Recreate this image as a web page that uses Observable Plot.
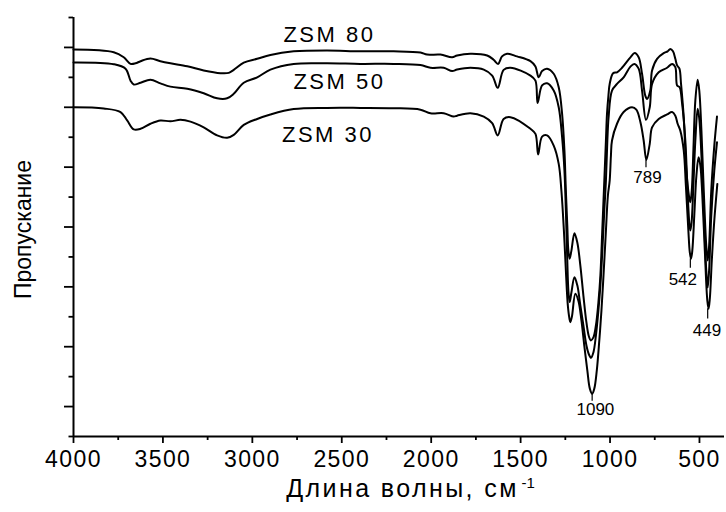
<!DOCTYPE html>
<html><head><meta charset="utf-8">
<script src="https://cdn.jsdelivr.net/npm/d3@7"></script>
<script src="https://cdn.jsdelivr.net/npm/@observablehq/plot@0.6"></script>
<style>
body{margin:0;background:#fff;}
#chart svg{display:block;}
</style></head><body><div id="chart"></div>
<script>
const series = ["ZSM 80", "ZSM 50", "ZSM 30"];

const wn80 = [4000,3775,3719,3681,3653,3625,3570,3514,3458,3364,3272,3178,3132,3104,3048,2973,2899,2769,2582,2396,2210,2060,2023,1948,1883,1855,1781,1687,1651,1626,1604,1576,1520,1445,1417,1399,1380,1352,1315,1287,1268,1255,1247,1239,1233,1226,1216,1199,1183,1166,1149,1132,1118,1107,1093,1079,1065,1054,1043,1032,1023,1017,1009,1002,983,961,933,886,862,840,821,803,793,775,765,737,700,678,663,648,635,625,612,603,588,573,559,551,543,534,523,510,501,489,476,462,454,446,434,417,402];
const t80 = [12.93,12.84,12.67,12.45,12.47,12.54,12.63,12.54,12.47,12.37,12.23,12.14,12.15,12.25,12.49,12.62,12.75,12.87,12.90,12.87,12.87,12.83,12.76,12.76,12.67,12.73,12.79,12.73,12.59,12.45,12.70,12.79,12.70,12.54,12.36,12.00,12.21,12.29,12.12,11.67,10.78,9.56,8.22,7.05,6.21,5.94,6.21,6.79,6.48,5.71,4.71,3.81,3.34,3.21,3.31,3.71,4.48,5.38,6.95,8.55,9.89,10.78,11.39,11.78,12.14,12.17,12.32,12.67,12.81,12.67,12.12,11.39,11.28,11.56,12.23,12.62,12.81,12.87,12.95,12.87,12.62,12.40,12.29,11.78,10.67,8.89,8.05,7.83,8.22,9.56,11.23,11.92,11.56,10.22,8.22,6.38,5.88,6.38,8.22,9.72,10.69];

const wn50 = [4000,3775,3709,3681,3663,3625,3570,3514,3458,3364,3272,3197,3141,3104,3048,2973,2899,2769,2582,2396,2210,2060,2004,1930,1883,1855,1781,1706,1659,1628,1595,1557,1445,1417,1405,1380,1352,1315,1287,1268,1255,1247,1239,1233,1226,1216,1199,1183,1166,1149,1132,1118,1106,1093,1079,1065,1054,1043,1032,1023,1015,1008,989,961,924,886,864,840,821,799,778,765,728,681,653,635,625,611,597,579,568,557,551,544,534,523,510,501,489,476,462,454,446,434,417,402];
const t50 = [12.50,12.44,12.29,11.89,11.76,11.82,11.92,11.80,11.69,11.62,11.47,11.30,11.30,11.45,11.82,12.00,12.26,12.45,12.47,12.45,12.45,12.41,12.32,12.32,12.21,12.26,12.32,12.26,12.06,11.65,12.25,12.32,12.06,11.89,11.14,11.73,11.80,11.56,11.00,10.00,8.89,7.55,5.88,4.88,4.49,4.81,5.32,5.05,4.38,3.71,3.04,2.74,2.63,2.81,3.37,4.21,5.05,6.21,7.55,8.55,9.89,10.67,11.56,11.78,12.00,12.36,12.45,12.29,11.56,10.58,11.00,11.78,12.17,12.32,12.45,12.34,11.73,11.67,11.12,9.89,8.39,7.15,6.88,7.15,8.39,9.89,10.95,10.62,9.39,7.55,5.55,4.98,5.55,7.38,8.89,9.83];

const wn30 = [4000,3831,3737,3700,3663,3625,3570,3514,3458,3402,3346,3272,3197,3141,3104,3048,2973,2899,2769,2582,2396,2210,2060,2004,1930,1874,1855,1781,1706,1659,1628,1595,1557,1445,1417,1402,1380,1352,1315,1287,1272,1258,1247,1236,1227,1222,1213,1194,1177,1160,1144,1127,1113,1100,1088,1074,1060,1048,1035,1023,1012,1002,995,989,961,924,877,853,830,812,797,778,765,728,681,653,635,622,607,588,576,562,554,547,540,529,517,505,495,484,470,456,449,442,431,417,400];
const t30 = [11.00,10.96,10.84,10.56,10.26,10.28,10.45,10.56,10.53,10.58,10.52,10.33,10.06,9.98,10.08,10.41,10.61,10.76,10.94,10.98,10.98,10.97,10.92,10.80,10.80,10.69,10.72,10.80,10.69,10.47,10.06,10.61,10.67,10.28,10.11,9.42,10.02,10.06,9.72,9.11,8.22,6.88,5.55,4.38,3.94,3.82,4.01,4.77,4.54,3.88,3.04,2.21,1.60,1.43,1.60,2.21,3.21,4.21,5.55,6.88,8.05,8.55,9.39,9.89,10.45,10.84,11.00,10.92,10.50,9.89,9.24,9.78,10.33,10.61,10.76,10.84,10.72,10.45,10.22,9.56,8.39,6.88,6.15,5.94,6.21,7.38,8.72,9.33,9.05,8.05,6.21,4.54,4.27,4.61,5.88,7.22,8.44];

const seriesLabelX = [2569, 2513, 2577];
const seriesLabelY = [13.43, 11.86, 10.09];

const peakText = ["1090", "789", "542", "449"];
const peakX = [1100, 799, 551, 454];
const peakY1 = [1.43, 9.24, 5.94, 4.27];
const peakY2 = [1.18, 8.98, 5.62, 3.93];
const peakLabelX = [1082, 791, 593, 458];
const peakLabelY = [0.90, 8.64, 5.26, 3.54];

const xMajor = [4000, 3500, 3000, 2500, 2000, 1500, 1000, 500];
const xMinor = [3750, 3250, 2750, 2250, 1750, 1250, 750];
const yMajor = [1, 3, 5, 7, 9, 11, 13];
const yMinor = [0, 2, 4, 6, 8, 10, 12, 14];

const yTitle = "Пропускание";
const xTitle = "Длина волны, см";
const xTitleSup = "-1";

const data = [[wn80, t80], [wn50, t50], [wn30, t30]].flatMap(([w, t], k) =>
  w.map((x, i) => ({series: series[k], wn: x, t: t[i]})));

const plot = Plot.plot({
  width: 726, height: 512,
  marginLeft: 73, marginRight: 2, marginTop: 17, marginBottom: 76,
  style: {fontFamily: "'Liberation Sans', Arial, sans-serif", background: "#fff", color: "#000"},
  x: {domain: [4000, 360]},
  y: {domain: [0, 14]},
  marks: [
    Plot.axisX({ticks: xMajor, tickSize: 7, tickPadding: 7, tickFormat: d => String(d), fontSize: 23, strokeWidth: 1.8, label: null}),
    Plot.axisX({ticks: xMinor, tickSize: 4, fill: "none", strokeWidth: 1.8, label: null}),
    Plot.axisY({ticks: yMajor, tickSize: 9, fill: "none", strokeWidth: 1.8, label: null}),
    Plot.axisY({ticks: yMinor, tickSize: 4.5, fill: "none", strokeWidth: 1.8, label: null}),
    Plot.ruleY([0], {strokeWidth: 2}),
    Plot.ruleX([4000], {strokeWidth: 2}),
    Plot.line(data, {x: "wn", y: "t", z: "series", stroke: "#000", strokeWidth: 2, curve: "catmull-rom"}),
    Plot.text(series, {x: (d, i) => seriesLabelX[i], y: (d, i) => seriesLabelY[i], text: d => d, fontSize: 22}),
    Plot.ruleX(peakText, {x: (d, i) => peakX[i], y1: (d, i) => peakY1[i], y2: (d, i) => peakY2[i], strokeWidth: 1.2}),
    Plot.text(peakText, {x: (d, i) => peakLabelX[i], y: (d, i) => peakLabelY[i], text: d => d, fontSize: 17}),
    Plot.text([yTitle], {frameAnchor: "left", textAnchor: "middle", dx: -50, dy: 2.5, rotate: -90, fontSize: 23}),
    Plot.text([xTitle], {frameAnchor: "bottom", textAnchor: "middle", dx: 3.5, dy: 60, fontSize: 25}),
    Plot.text([xTitleSup], {frameAnchor: "bottom", textAnchor: "start", dx: 122.5, dy: 51, fontSize: 15})
  ]
});

const majorStr = xMajor.map(String);
d3.select(plot).selectAll("text").each(function () {
  const t = this.textContent;
  if (t.startsWith("ZSM")) this.style.letterSpacing = "2.5px";
  else if (majorStr.includes(t)) this.style.letterSpacing = "1.4px";
  else if (t === xTitle) this.style.letterSpacing = "2.4px";
});

document.getElementById("chart").append(plot);
</script>
</body></html>
